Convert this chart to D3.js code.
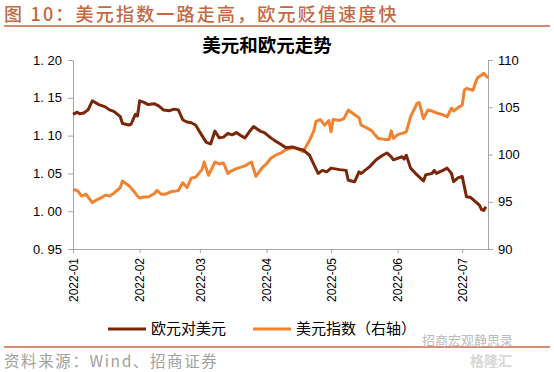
<!DOCTYPE html>
<html>
<head>
<meta charset="utf-8">
<script src="https://cdn.jsdelivr.net/npm/d3@7"></script>
<style>
  body { margin: 0; background: #fff; }
  svg text { font-family: Arial, "Liberation Sans", "Noto Sans CJK SC", sans-serif; }
</style>
</head>
<body>
<div id="chart"></div>
<script>
// EUR/USD (left axis)
const eurDates = ['2022-01-01','2022-01-03','2022-01-04','2022-01-06','2022-01-08','2022-01-10','2022-01-13','2022-01-16','2022-01-18','2022-01-20',
  '2022-01-23','2022-01-24','2022-01-27','2022-01-28','2022-01-30','2022-01-31','2022-02-01','2022-02-03','2022-02-05','2022-02-08',
  '2022-02-10','2022-02-12','2022-02-15','2022-02-17','2022-02-19','2022-02-21','2022-02-23','2022-02-25','2022-02-27','2022-03-02',
  '2022-03-04','2022-03-06','2022-03-08','2022-03-10','2022-03-12','2022-03-14','2022-03-16','2022-03-18','2022-03-20','2022-03-22',
  '2022-03-24','2022-03-26','2022-03-29','2022-03-31','2022-04-03','2022-04-05','2022-04-08','2022-04-10','2022-04-13','2022-04-15',
  '2022-04-18','2022-04-21','2022-04-22','2022-04-25','2022-04-27','2022-04-29','2022-05-01','2022-05-05','2022-05-08','2022-05-09',
  '2022-05-12','2022-05-14','2022-05-15','2022-05-19','2022-05-22','2022-05-25','2022-05-27','2022-05-29','2022-05-30','2022-06-03',
  '2022-06-04','2022-06-05','2022-06-07','2022-06-10','2022-06-13','2022-06-14','2022-06-17','2022-06-18','2022-06-19','2022-06-22',
  '2022-06-24','2022-06-26','2022-06-27','2022-06-29','2022-07-01','2022-07-03','2022-07-05','2022-07-07','2022-07-09','2022-07-10',
  '2022-07-11','2022-07-12'];
const eurValues = [1.128,1.131,1.129,1.130,1.134,1.146,1.141,1.138,1.134,1.132,
  1.125,1.116,1.114,1.115,1.128,1.126,1.146,1.144,1.141,1.142,
  1.139,1.134,1.133,1.135,1.134,1.121,1.118,1.117,1.114,1.100,
  1.091,1.089,1.106,1.097,1.098,1.103,1.101,1.104,1.100,1.097,
  1.105,1.112,1.106,1.104,1.097,1.093,1.088,1.084,1.085,1.083,
  1.081,1.074,1.068,1.050,1.054,1.052,1.057,1.055,1.054,1.041,
  1.039,1.052,1.050,1.059,1.068,1.074,1.077,1.072,1.068,1.072,
  1.069,1.074,1.057,1.048,1.040,1.048,1.050,1.054,1.050,1.054,
  1.057,1.050,1.039,1.044,1.046,1.019,1.018,1.013,1.008,1.002,
  1.001,1.006];

// US dollar index (right axis)
const dxyDates = ['2022-01-01','2022-01-03','2022-01-05','2022-01-07','2022-01-08','2022-01-10','2022-01-12','2022-01-14','2022-01-16','2022-01-18',
  '2022-01-20','2022-01-23','2022-01-24','2022-01-27','2022-01-29','2022-01-31','2022-02-01','2022-02-03','2022-02-05','2022-02-08',
  '2022-02-09','2022-02-11','2022-02-13','2022-02-16','2022-02-17','2022-02-19','2022-02-21','2022-02-23','2022-02-25','2022-02-27',
  '2022-03-02','2022-03-03','2022-03-05','2022-03-08','2022-03-10','2022-03-12','2022-03-14','2022-03-16','2022-03-18','2022-03-22',
  '2022-03-25','2022-03-27','2022-03-30','2022-04-01','2022-04-03','2022-04-05','2022-04-08','2022-04-10','2022-04-13','2022-04-15',
  '2022-04-18','2022-04-21','2022-04-23','2022-04-24','2022-04-26','2022-04-28','2022-04-30','2022-05-01','2022-05-02','2022-05-05',
  '2022-05-07','2022-05-09','2022-05-12','2022-05-14','2022-05-15','2022-05-17','2022-05-20','2022-05-21','2022-05-23','2022-05-26',
  '2022-05-28','2022-05-29','2022-05-30','2022-06-01','2022-06-04','2022-06-05','2022-06-07','2022-06-10','2022-06-11','2022-06-13',
  '2022-06-15','2022-06-17','2022-06-19','2022-06-22','2022-06-24','2022-06-26','2022-06-27','2022-06-30','2022-07-01','2022-07-02',
  '2022-07-03','2022-07-06','2022-07-08','2022-07-10','2022-07-11','2022-07-13'];
const dxyValues = [96.3,96.2,95.6,95.8,95.5,94.9,95.2,95.4,95.7,95.6,
  95.9,96.5,97.2,96.7,96.2,95.6,95.4,95.5,95.5,95.9,
  96.2,95.8,95.8,96.1,96.1,96.2,97.0,96.5,97.5,97.6,
  98.4,99.2,97.8,99.2,99.0,99.1,98.0,98.3,98.5,98.8,
  99.2,97.7,98.6,99.0,99.6,99.9,100.2,100.5,100.7,100.7,
  100.3,101.5,102.5,103.5,103.7,103.1,103.6,102.4,103.7,103.6,
  103.8,104.7,104.2,103.9,103.1,102.9,102.5,102.2,101.7,101.6,
  101.6,102.5,101.7,102.1,102.3,102.4,104.0,105.4,105.5,103.8,
  104.7,104.6,104.4,104.2,104.0,104.9,104.6,105.1,105.2,106.8,
  107.0,106.8,108.1,108.4,108.6,108.1];

const leftTicks = [0.95, 1.00, 1.05, 1.10, 1.15, 1.20];
const rightTicks = [90, 95, 100, 105, 110];
const monthTicks = ['2022-01-01','2022-02-01','2022-03-01','2022-04-01','2022-05-01','2022-06-01','2022-07-01'];

const W = 554, H = 372;
const plot = { left: 73, right: 488, top: 60, bottom: 249 };
const red = '#C4683F';
const eurColor = '#7A2608';
const dxyColor = '#F08232';
const axisColor = '#A6A6A6';

const parse = d3.timeParse('%Y-%m-%d');
const eur = eurDates.map((d, i) => ({ date: parse(d), v: eurValues[i] }));
const dxy = dxyDates.map((d, i) => ({ date: parse(d), v: dxyValues[i] }));

const svg = d3.select('#chart').append('svg')
    .attr('width', W)
    .attr('height', H);

// Header
svg.append('text')
    .attr('x', 4).attr('y', 21)
    .style('font-family', '"Noto Sans CJK SC", sans-serif')
    .style('font-size', '18px')
    .style('font-weight', '500')
    .style('letter-spacing', '2.2px')
    .style('fill', red)
    .text('图 10：美元指数一路走高，欧元贬值速度快');

svg.append('line')
    .attr('x1', 4).attr('x2', 550)
    .attr('y1', 26).attr('y2', 26)
    .attr('stroke', red).attr('stroke-width', 1.5);

svg.append('text')
    .attr('x', 267).attr('y', 52)
    .attr('text-anchor', 'middle')
    .style('font-family', '"Noto Sans CJK SC", sans-serif')
    .style('font-size', '18.5px')
    .style('font-weight', 'bold')
    .style('fill', '#000')
    .text('美元和欧元走势');

// Scales
const x = d3.scaleTime()
    .domain([parse('2022-01-01'), parse('2022-07-13')])
    .range([plot.left, plot.right]);

const yLeft = d3.scaleLinear().domain([0.95, 1.20]).range([plot.bottom, plot.top]);
const yRight = d3.scaleLinear().domain([90, 110]).range([plot.bottom, plot.top]);

// Axes
const xAxis = d3.axisBottom(x)
    .tickValues(monthTicks.map(parse))
    .tickSize(4)
    .tickSizeOuter(0)
    .tickFormat(d3.timeFormat('%Y-%m'));

const gx = svg.append('g')
    .attr('transform', `translate(0,${plot.bottom})`)
    .call(xAxis);
gx.selectAll('text')
    .attr('transform', 'rotate(-90)')
    .attr('text-anchor', 'end')
    .attr('x', -9)
    .attr('y', 0)
    .attr('dy', '0.35em')
    .style('font-size', '12px')
    .style('fill', '#000');

const yAxisLeft = d3.axisLeft(yLeft)
    .tickValues(leftTicks)
    .tickSize(5)
    .tickSizeOuter(0)
    .tickFormat(d => d3.format('.2f')(d).replace('.', '. '));

const gl = svg.append('g')
    .attr('transform', `translate(${plot.left},0)`)
    .call(yAxisLeft);
gl.selectAll('text')
    .attr('x', -11)
    .style('font-size', '13px')
    .style('fill', '#000');

const yAxisRight = d3.axisRight(yRight)
    .tickValues(rightTicks)
    .tickSize(5)
    .tickSizeOuter(0);

const gr = svg.append('g')
    .attr('transform', `translate(${plot.right},0)`)
    .call(yAxisRight);
gr.selectAll('text')
    .attr('x', 10)
    .style('font-size', '13px')
    .style('fill', '#000');

[gx, gl, gr].forEach(g => {
    g.select('.domain').attr('stroke', axisColor);
    g.selectAll('.tick line').attr('stroke', axisColor);
});

// Lines
const lineEur = d3.line()
    .x(d => x(d.date))
    .y(d => yLeft(d.v));

const lineDxy = d3.line()
    .x(d => x(d.date))
    .y(d => yRight(d.v));

svg.append('path')
    .datum(dxy)
    .attr('fill', 'none')
    .attr('stroke', dxyColor)
    .attr('stroke-width', 3)
    .attr('stroke-linejoin', 'round')
    .attr('d', lineDxy);

svg.append('path')
    .datum(eur)
    .attr('fill', 'none')
    .attr('stroke', eurColor)
    .attr('stroke-width', 3)
    .attr('stroke-linejoin', 'round')
    .attr('d', lineEur);

// Legend
const legend = svg.append('g').attr('transform', 'translate(0,329)');
const items = [
    { x: 108, color: eurColor, label: '欧元对美元' },
    { x: 253, color: dxyColor, label: '美元指数（右轴）' }
];
items.forEach(it => {
    legend.append('line')
        .attr('x1', it.x).attr('x2', it.x + 38)
        .attr('y1', 0).attr('y2', 0)
        .attr('stroke', it.color).attr('stroke-width', 3);
    legend.append('text')
        .attr('x', it.x + 43).attr('y', 0)
        .attr('dy', '0.35em')
        .style('font-family', '"Noto Sans CJK SC", sans-serif')
        .style('font-size', '15px')
        .style('fill', '#000')
        .text(it.label);
});

// Footer
svg.append('line')
    .attr('x1', 4).attr('x2', 550)
    .attr('y1', 347).attr('y2', 347)
    .attr('stroke', red).attr('stroke-width', 1.5);

svg.append('text')
    .attr('x', 4).attr('y', 367)
    .style('font-family', '"Noto Sans CJK SC", sans-serif')
    .style('font-size', '15.5px')
    .style('letter-spacing', '1.6px')
    .style('fill', '#A0A0A0')
    .text('资料来源：Wind、招商证券');

// Watermark
svg.append('text')
    .attr('x', 422).attr('y', 345)
    .style('font-family', '"Noto Sans CJK SC", sans-serif')
    .style('font-size', '13px')
    .style('fill', '#BBBBBB')
    .text('招商宏观静思录');

svg.append('text')
    .attr('x', 470).attr('y', 366)
    .style('font-family', '"Noto Sans CJK SC", sans-serif')
    .style('font-size', '14px')
    .style('font-weight', 'bold')
    .style('fill', '#D8D8D8')
    .text('格隆汇');
</script>
</body>
</html>
